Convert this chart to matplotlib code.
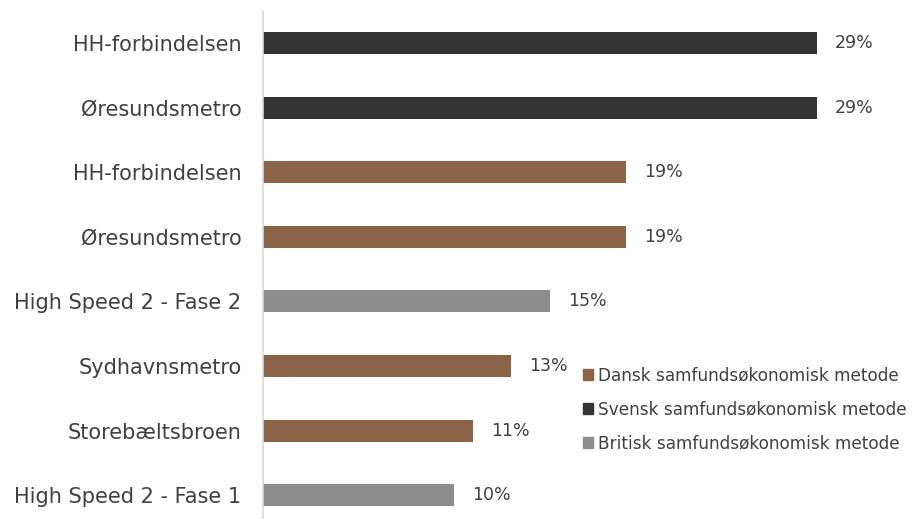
import matplotlib
matplotlib.use("Agg")
import matplotlib.pyplot as plt
from matplotlib.patches import Patch

categories = ["HH-forbindelsen", "Øresundsmetro", "HH-forbindelsen", "Øresundsmetro",
              "High Speed 2 - Fase 2", "Sydhavnsmetro", "Storebæltsbroen", "High Speed 2 - Fase 1"]
values = [29, 29, 19, 19, 15, 13, 11, 10]
methods = ["Svensk", "Svensk", "Dansk", "Dansk", "Britisk", "Dansk", "Dansk", "Britisk"]
legend_labels = ["Dansk samfundsøkonomisk metode",
                 "Svensk samfundsøkonomisk metode",
                 "Britisk samfundsøkonomisk metode"]
colors = {"Dansk": "#8B6347", "Svensk": "#333333", "Britisk": "#8C8C8C"}

plt.rcParams['font.family'] = ['DejaVu Sans']
W, H = 919, 519
fig = plt.figure(figsize=(W/100, H/100), dpi=100)
left = 263 / W
top_px, bot_px = 10.7, 527.5
ax = fig.add_axes([left, 1 - bot_px/H, 1 - left, (bot_px - top_px)/H])

n = len(categories)
ypos = list(range(n))
ax.barh(ypos, values, height=0.34, color=[colors[m] for m in methods])
ax.set_ylim(n - 0.5, -0.5)
ax.set_xlim(0, (W - 263) / 19.1)
ax.set_yticks(ypos)
ax.set_yticklabels(categories, fontsize=15, color="#404040")
ax.tick_params(axis='y', length=0, pad=15.5)
ax.set_xticks([])
for s in ["top", "right", "bottom"]:
    ax.spines[s].set_visible(False)
ax.spines["left"].set_color("#D9D9D9")
ax.spines["left"].set_linewidth(1.2)

for y, v in zip(ypos, values):
    ax.text(v + 0.95, y, f"{v}%", va="center", ha="left", fontsize=12.5, color="#404040")

handles = [Patch(color=colors[k]) for k in ["Dansk", "Svensk", "Britisk"]]
leg = fig.legend(handles, legend_labels, loc="upper left", bbox_to_anchor=(568/W, 1 - 351/H),
                 frameon=False, fontsize=12.2, handlelength=0.6, handleheight=0.6,
                 handletextpad=0.3, labelspacing=0.95, labelcolor="#404040")

fig.savefig("out.png", dpi=100)
